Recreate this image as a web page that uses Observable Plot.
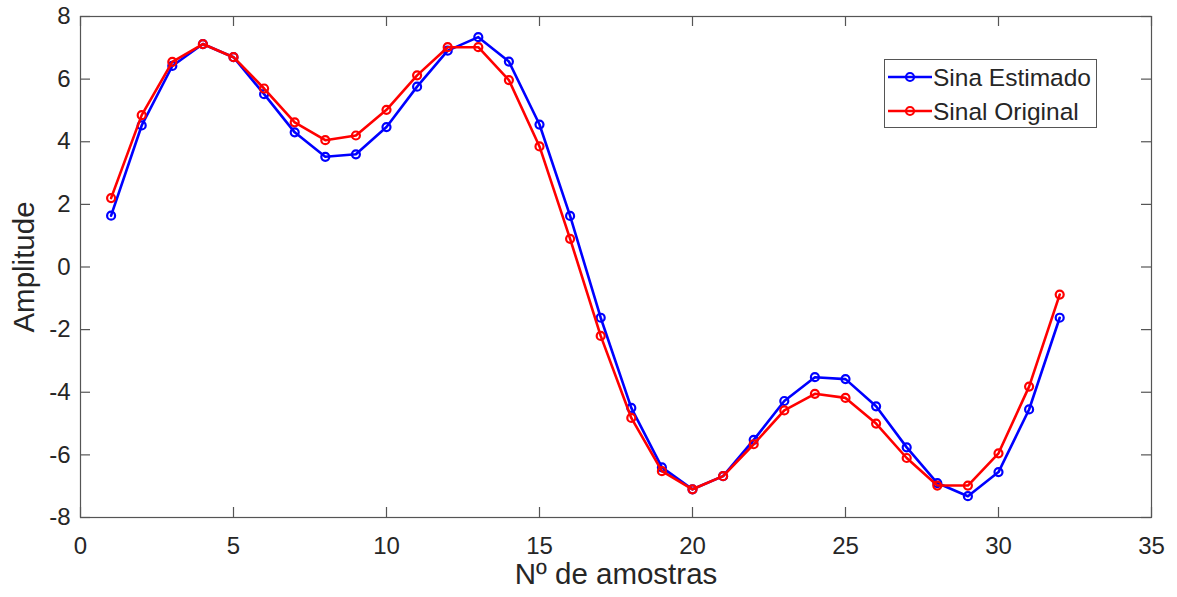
<!DOCTYPE html>
<html>
<head>
<meta charset="utf-8">
<script src="https://cdn.jsdelivr.net/npm/d3@7"></script>
<script src="https://cdn.jsdelivr.net/npm/@observablehq/plot@0.6"></script>
<style>
  body { margin: 0; background: #fff; font-family: "Liberation Sans", Arial, sans-serif; }
  #wrap { position: relative; width: 1177px; height: 597px; }
  #legend { position: absolute; left: 884px; top: 59px; }
</style>
</head>
<body>
<div id="wrap"></div>
<script>
const samples = [1,2,3,4,5,6,7,8,9,10,11,12,13,14,15,16,17,18,19,20,21,22,23,24,25,26,27,28,29,30,31,32];
const estimated = [1.64,4.52,6.42,7.12,6.70,5.52,4.30,3.52,3.60,4.47,5.76,6.91,7.34,6.56,4.55,1.63,
                   -1.62,-4.50,-6.40,-7.10,-6.68,-5.52,-4.28,-3.52,-3.58,-4.45,-5.76,-6.90,-7.32,-6.55,-4.55,-1.62];
const original = [2.20,4.85,6.55,7.12,6.70,5.70,4.62,4.05,4.20,5.02,6.12,7.02,7.02,5.97,3.85,0.90,
                  -2.20,-4.82,-6.52,-7.10,-6.68,-5.66,-4.58,-4.05,-4.18,-5.00,-6.10,-6.98,-6.98,-5.95,-3.82,-0.88];
const xTicks = [0,5,10,15,20,25,30,35];
const yTicks = [-8,-6,-4,-2,0,2,4,6,8];
const seriesNames = ["Sina Estimado", "Sinal Original"];
const seriesColors = ["#0000ff", "#ff0000"];
const xLabel = "Nº de amostras";
const yLabel = "Amplitude";

const W = 1177, H = 597;
const mL = 80, mR = 26, mT = 16, mB = 80;
const innerW = W - mL - mR, innerH = H - mT - mB;
const axisColor = "#555";
const textColor = "#262626";

const estData = samples.map((s, i) => ({x: s, y: estimated[i]}));
const origData = samples.map((s, i) => ({x: s, y: original[i]}));

const chart = Plot.plot({
  width: W, height: H,
  marginLeft: mL, marginRight: mR, marginTop: mT, marginBottom: mB,
  style: {fontFamily: '"Liberation Sans", Arial, sans-serif', fontSize: "24px", color: textColor, background: "#fff"},
  x: {domain: [0, 35]},
  y: {domain: [-8, 8]},
  marks: [
    Plot.frame({stroke: axisColor, strokeWidth: 1.2}),
    Plot.tickX(xTicks, {x: d => d, insetTop: innerH - 10, stroke: axisColor, strokeWidth: 1.2}),
    Plot.tickX(xTicks, {x: d => d, insetBottom: innerH - 10, stroke: axisColor, strokeWidth: 1.2}),
    Plot.tickY(yTicks, {y: d => d, insetRight: innerW - 10, stroke: axisColor, strokeWidth: 1.2}),
    Plot.tickY(yTicks, {y: d => d, insetLeft: innerW - 10, stroke: axisColor, strokeWidth: 1.2}),
    Plot.axisX({ticks: xTicks, tickSize: 0, tickPadding: 19, label: null, tickFormat: d => String(d), fill: textColor}),
    Plot.axisY({ticks: yTicks, tickSize: 0, tickPadding: 10, label: null, tickFormat: d => String(d), fill: textColor}),
    Plot.line(estData, {x: "x", y: "y", stroke: seriesColors[0], strokeWidth: 2.6}),
    Plot.dot(estData, {x: "x", y: "y", r: 4, stroke: seriesColors[0], strokeWidth: 2.2, fill: "none"}),
    Plot.line(origData, {x: "x", y: "y", stroke: seriesColors[1], strokeWidth: 2.6}),
    Plot.dot(origData, {x: "x", y: "y", r: 4, stroke: seriesColors[1], strokeWidth: 2.2, fill: "none"}),
    Plot.text([xLabel], {text: d => d, frameAnchor: "bottom", dy: 66, fontSize: 29.5, fill: textColor}),
    Plot.text([yLabel], {text: d => d, frameAnchor: "left", textAnchor: "middle", dx: -56, rotate: -90, fontSize: 29.5, fill: textColor})
  ]
});

const wrap = document.getElementById("wrap");
wrap.appendChild(chart);

// legend
const lw = 213, lh = 69;
const leg = d3.select(wrap).append("svg")
  .attr("id", "legend").attr("width", lw).attr("height", lh);
leg.append("rect").attr("x", 0.5).attr("y", 0.5).attr("width", lw - 1).attr("height", lh - 1)
  .attr("fill", "#fff").attr("stroke", axisColor).attr("stroke-width", 1);
const rowY = [18, 52];
seriesNames.forEach((name, i) => {
  const g = leg.append("g").attr("transform", `translate(0,${rowY[i]})`);
  g.append("line").attr("x1", 4).attr("x2", 48).attr("y1", 0).attr("y2", 0)
    .attr("stroke", seriesColors[i]).attr("stroke-width", 2.6);
  g.append("circle").attr("cx", 26).attr("cy", 0).attr("r", 4)
    .attr("fill", "none").attr("stroke", seriesColors[i]).attr("stroke-width", 2.2);
  g.append("text").attr("x", 49).attr("y", 0).attr("dy", "0.35em")
    .attr("font-family", '"Liberation Sans", Arial, sans-serif').attr("font-size", 24.5)
    .attr("fill", textColor).text(name);
});
</script>
</body>
</html>
